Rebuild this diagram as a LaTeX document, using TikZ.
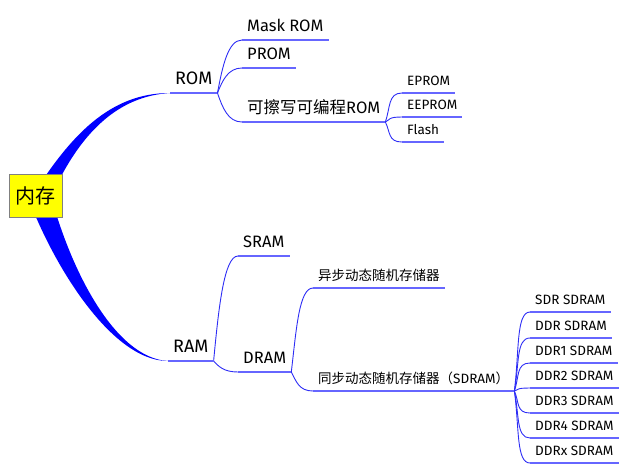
\documentclass[tikz,border=0pt]{standalone}
\usepackage{fontspec}
\setmainfont{Fira Sans}
\newfontfamily\cjk{Noto Sans CJK SC}
\usetikzlibrary{calc,backgrounds}
\definecolor{lineblue}{RGB}{102,102,255}
\definecolor{curveblue}{RGB}{45,45,245}
\definecolor{rootyellow}{RGB}{255,255,0}

\tikzset{
  rootbox/.style={draw=gray,fill=rootyellow,minimum width=53pt,minimum height=43pt,inner sep=0pt,font=\cjk\fontsize{20}{20}\selectfont},
  leafbox/.style={anchor=south west,inner xsep=5pt,inner ysep=0pt,text depth=#1},
  lvlone/.style={leafbox=8pt,font=\fontsize{18}{18}\selectfont},
  lvltwo/.style={leafbox=8pt,font=\fontsize{16.5}{16.5}\selectfont},
  lvlthree/.style={leafbox=7pt,font=\fontsize{13.5}{13.5}\selectfont},
  uline/.style={lineblue,line width=2pt},
  twig/.style={curveblue,line width=0.9pt,to path={.. controls ($(\tikztostart)!0.5!(\tikztostart|-\tikztotarget)+(5,0)$) and ($(\tikztotarget)+(-14,0)$) .. (\tikztotarget)}}
}

\begin{document}
\begin{tikzpicture}[x=1pt,y=-1pt]
\useasboundingbox (0,0) rectangle (628,475);

\node[rootbox] (mem) at (35.5,195.5) {内存};

% main topics
\node[lvlone] (rom) at (170,93) {ROM};
\node[lvlone] (ram) at (168,361) {RAM};

% ROM side
\node[lvltwo] (mask) at (242,40) {Mask ROM};
\node[lvltwo] (prom) at (242,68) {PROM};
\node[lvltwo] (erase) at (242,122) {{\cjk 可擦写可编程}ROM};
\node[lvlthree] (eprom) at (402,93) {EPROM};
\node[lvlthree] (eeprom) at (402,117) {EEPROM};
\node[lvlthree] (flash) at (402,142) {Flash};

% RAM side
\node[lvltwo] (sram) at (238,256) {SRAM};
\node[lvltwo] (dram) at (238,372) {DRAM};
\node[lvlthree] (async) at (313,288) {\cjk 异步动态随机存储器};
\node[lvlthree] (sdram) at (313,391) {{\cjk 同步动态随机存储器（}SDRAM{\cjk ）}};
\node[lvlthree] (sdr) at (530,312) {SDR SDRAM};
\node[lvlthree] (ddr) at (530,338) {DDR SDRAM};
\node[lvlthree] (ddra) at (530,363) {DDR1 SDRAM};
\node[lvlthree] (ddrb) at (530,388) {DDR2 SDRAM};
\node[lvlthree] (ddrc) at (530,413) {DDR3 SDRAM};
\node[lvlthree] (ddrd) at (530,438) {DDR4 SDRAM};
\node[lvlthree] (ddrx) at (530,463) {DDRx SDRAM};

% thick branches from the root
\begin{scope}[on background layer]
\fill[blue] ([shift={(-6,5)}]mem.center) .. controls (70,135) and (110,93) .. (rom.south west)
  .. controls (120,96) and (80,130) .. ([shift={(14,5)}]mem.center) -- cycle;
\fill[blue] ([shift={(-10,-5)}]mem.center) .. controls (50,260) and (110,361) .. (ram.south west)
  .. controls (115,358) and (70,270) .. ([shift={(14,-5)}]mem.center) -- cycle;
\end{scope}

% thin branches
\foreach \c in {mask,prom,erase} \draw[twig] (rom.south east) to (\c.south west);
\foreach \c in {eprom,eeprom,flash} \draw[twig] (erase.south east) to (\c.south west);
\foreach \c in {sram,dram} \draw[twig] (ram.south east) to (\c.south west);
\foreach \c in {async,sdram} \draw[twig] (dram.south east) to (\c.south west);
\foreach \c in {sdr,ddr,ddra,ddrb,ddrc,ddrd,ddrx} \draw[twig] (sdram.south east) to (\c.south west);

% underlines
\foreach \n in {rom,ram,mask,prom,erase,eprom,eeprom,flash,sram,dram,async,sdram,sdr,ddr,ddra,ddrb,ddrc,ddrd,ddrx}
  \draw[uline] (\n.south west) -- (\n.south east);
\end{tikzpicture}
\end{document}
